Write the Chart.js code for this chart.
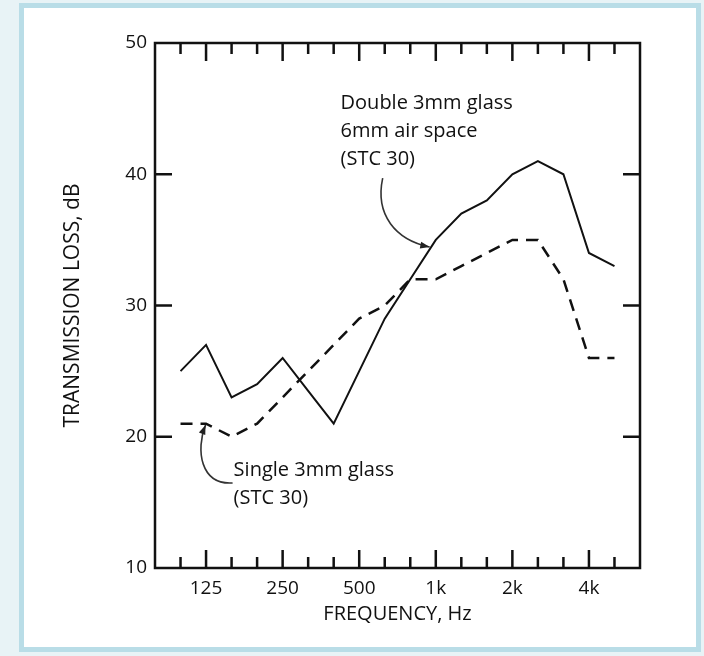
<!DOCTYPE html>
<html>
<head>
<meta charset="utf-8">
<script src="https://cdn.jsdelivr.net/npm/chart.js@4.4.1/dist/chart.umd.min.js"></script>
<style>
  html, body { margin: 0; padding: 0; }
  body { width: 704px; height: 656px; background: #e8f3f6; position: relative; overflow: hidden; }
  .panel { position: absolute; left: 19px; top: 3px; width: 672px; height: 639px; border: 5px solid #b9dde7; background: #fff; }
  canvas { position: absolute; left: 0; top: 0; }
</style>
</head>
<body>
<div class="panel"></div>
<canvas id="tlChart" width="704" height="656"></canvas>
<script>
// 1/3 octave bands, 100 Hz .. 5 kHz
const frequencies = ['100', '125', '160', '200', '250', '315', '400', '500', '630', '800',
  '1k', '1.25k', '1.6k', '2k', '2.5k', '3.15k', '4k', '5k'];
const freqLabels = ['', '125', '', '', '250', '', '', '500', '', '', '1k', '', '', '2k', '', '', '4k', ''];
const doubleGlass = [25, 27, 23, 24, 26, 23.5, 21, 25, 29, 32, 35, 37, 38, 40, 41, 40, 34, 33];
const singleGlass = [21, 21, 20, 21, 23, 25, 27, 29, 30, 32, 32, 33, 34, 35, 35, 32, 26, 26];
const yTicks = [10, 20, 30, 40, 50];

Chart.defaults.font.family = "'Open Sans', sans-serif";
Chart.defaults.color = '#111';

// frame round the plot with inward tick marks (top/bottom and left/right)
const frameTicks = {
  id: 'frameTicks',
  afterDatasetsDraw(chart) {
    const { ctx, chartArea: a, scales: { x, y } } = chart;
    ctx.save();
    ctx.strokeStyle = '#111';
    ctx.lineWidth = 2.5;
    ctx.strokeRect(a.left, a.top, a.right - a.left, a.bottom - a.top);
    ctx.beginPath();
    frequencies.forEach((f, i) => {
      const px = x.getPixelForValue(i);
      const len = freqLabels[i] ? 18 : 11;
      ctx.moveTo(px, a.bottom); ctx.lineTo(px, a.bottom - len);
      ctx.moveTo(px, a.top); ctx.lineTo(px, a.top + len);
    });
    yTicks.slice(1, -1).forEach(v => {
      const py = y.getPixelForValue(v);
      ctx.moveTo(a.left, py); ctx.lineTo(a.left + 17, py);
      ctx.moveTo(a.right, py); ctx.lineTo(a.right - 17, py);
    });
    ctx.stroke();
    ctx.restore();
  }
};

// callouts, placed in data coordinates (band index, dB)
const callouts = [
  { lines: ['Double 3mm glass', '6mm air space', '(STC 30)'], at: [6.27, 45.43],
    arrow: [[7.92, 39.7], [7.61, 36.9], [8.43, 35.0], [9.76, 34.46]] },
  { lines: ['Single 3mm glass', '(STC 30)'], at: [2.08, 17.47],
    arrow: [[2.04, 16.48], [0.78, 16.32], [0.59, 18.99], [0.98, 20.9]] }
];

const calloutPlugin = {
  id: 'callouts',
  afterDatasetsDraw(chart) {
    const { ctx, scales: { x, y } } = chart;
    const P = p => [x.getPixelForValue(p[0]), y.getPixelForValue(p[1])];
    ctx.save();
    ctx.fillStyle = '#111';
    ctx.font = "20px 'Open Sans', sans-serif";
    ctx.textBaseline = 'middle';
    callouts.forEach(c => {
      const [tx, ty] = P(c.at);
      ctx.fillStyle = '#111';
      c.lines.forEach((t, k) => ctx.fillText(t, tx, ty + k * 28));

      const [p0, p1, p2, p3] = c.arrow.map(P);
      ctx.strokeStyle = '#333';
      ctx.lineWidth = 1.6;
      ctx.beginPath();
      ctx.moveTo(p0[0], p0[1]);
      ctx.bezierCurveTo(p1[0], p1[1], p2[0], p2[1], p3[0], p3[1]);
      ctx.stroke();
      // arrow head
      const ang = Math.atan2(p3[1] - p2[1], p3[0] - p2[0]);
      ctx.beginPath();
      ctx.moveTo(p3[0], p3[1]);
      ctx.lineTo(p3[0] - 10 * Math.cos(ang - 0.35), p3[1] - 10 * Math.sin(ang - 0.35));
      ctx.lineTo(p3[0] - 10 * Math.cos(ang + 0.35), p3[1] - 10 * Math.sin(ang + 0.35));
      ctx.closePath();
      ctx.fillStyle = '#222';
      ctx.fill();
    });
    ctx.restore();
  }
};

const ctxTL = document.getElementById('tlChart').getContext('2d');
new Chart(ctxTL, {
  type: 'line',
  data: {
    datasets: [
      {
        label: 'Double 3mm glass, 6mm air space',
        data: doubleGlass.map((v, i) => ({ x: i, y: v })),
        borderColor: '#111',
        borderWidth: 2,
        pointRadius: 0,
        tension: 0,
        fill: false
      },
      {
        label: 'Single 3mm glass',
        data: singleGlass.map((v, i) => ({ x: i, y: v })),
        borderColor: '#111',
        borderWidth: 2.5,
        borderDash: [12, 8],
        pointRadius: 0,
        tension: 0,
        fill: false
      }
    ]
  },
  options: {
    responsive: false,
    animation: false,
    devicePixelRatio: 1,
    layout: { padding: { left: 0, top: 43, right: 64, bottom: 0 } },
    plugins: {
      legend: { display: false },
      tooltip: { enabled: false }
    },
    scales: {
      x: {
        type: 'linear',
        min: -1,
        max: 18,
        afterBuildTicks: s => { s.ticks = frequencies.map((f, i) => ({ value: i })); },
        afterFit: s => { s.height = 88; },
        grid: { display: false, drawTicks: false },
        border: { display: false },
        ticks: {
          autoSkip: false,
          maxRotation: 0,
          padding: 9,
          font: { size: 19 },
          callback: v => freqLabels[v] || ''
        },
        title: {
          display: true,
          text: 'FREQUENCY, Hz',
          font: { size: 20 },
          padding: { top: 0, bottom: 30 }
        }
      },
      y: {
        min: 10,
        max: 50,
        afterBuildTicks: s => { s.ticks = yTicks.map(v => ({ value: v })); },
        afterFit: s => { s.width = 155; },
        grid: { display: false, drawTicks: false },
        border: { display: false },
        ticks: { padding: 8, font: { size: 19 } },
        title: {
          display: true,
          text: 'TRANSMISSION LOSS, dB',
          font: { size: 21 },
          padding: { top: 60, bottom: 0 }
        }
      }
    }
  },
  plugins: [frameTicks, calloutPlugin]
});
</script>
</body>
</html>
